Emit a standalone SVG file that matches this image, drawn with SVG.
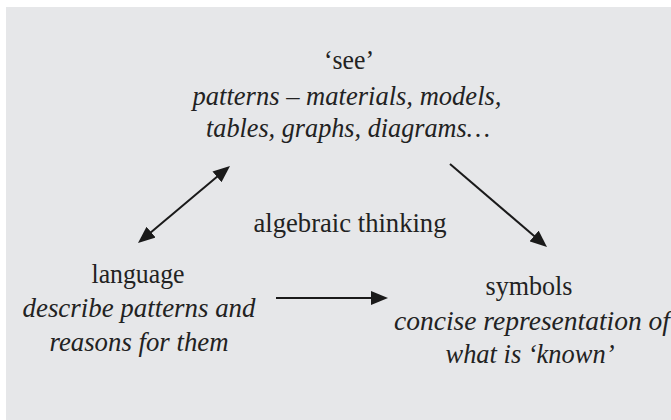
<svg xmlns="http://www.w3.org/2000/svg" width="671" height="420" viewBox="0 0 671 420">
  <defs>
    <marker id="ah" markerUnits="userSpaceOnUse" markerWidth="18" markerHeight="14" refX="2" refY="7" orient="auto-start-reverse" viewBox="0 0 18 14">
      <path d="M0,0 L17,7 L0,14 z" fill="#1a1a1a"/>
    </marker>
    <style>
      .t { font-family: "Liberation Serif", "DejaVu Serif", serif; font-size: 26.5px; fill: #222222; text-anchor: middle; }
      .i { font-style: italic; }
      .c { stroke: #1a1a1a; stroke-width: 2; fill: none; }
    </style>
  </defs>
  <rect x="6" y="7" width="665" height="413" fill="#e6e7e9"/>
  <g id="see">
    <text class="t" x="349" y="69" textLength="50" lengthAdjust="spacingAndGlyphs">‘see’</text>
    <text class="t i" x="347" y="105" textLength="309" lengthAdjust="spacingAndGlyphs">patterns – materials, models,</text>
    <text class="t i" x="348" y="137" textLength="284" lengthAdjust="spacingAndGlyphs">tables, graphs, diagrams…</text>
  </g>
  <g id="center">
    <text class="t" x="350" y="232" textLength="193" lengthAdjust="spacingAndGlyphs">algebraic thinking</text>
  </g>
  <g id="language">
    <text class="t" x="138" y="283" textLength="93" lengthAdjust="spacingAndGlyphs">language</text>
    <text class="t i" x="139" y="317" textLength="233" lengthAdjust="spacingAndGlyphs">describe patterns and</text>
    <text class="t i" x="139" y="351" textLength="179" lengthAdjust="spacingAndGlyphs">reasons for them</text>
  </g>
  <g id="symbols">
    <text class="t" x="529" y="295" textLength="87" lengthAdjust="spacingAndGlyphs">symbols</text>
    <text class="t i" x="532" y="330" textLength="276" lengthAdjust="spacingAndGlyphs">concise representation of</text>
    <text class="t i" x="530" y="363" textLength="169" lengthAdjust="spacingAndGlyphs">what is ‘known’</text>
  </g>
  <g id="connectors">
    <line class="c" x1="149.5" y1="233.4" x2="218.5" y2="175.6" marker-start="url(#ah)" marker-end="url(#ah)"/>
    <line class="c" x1="450" y1="164" x2="535.6" y2="237.25" marker-end="url(#ah)"/>
    <line class="c" x1="276" y1="298" x2="373" y2="298" marker-end="url(#ah)"/>
  </g>
</svg>
